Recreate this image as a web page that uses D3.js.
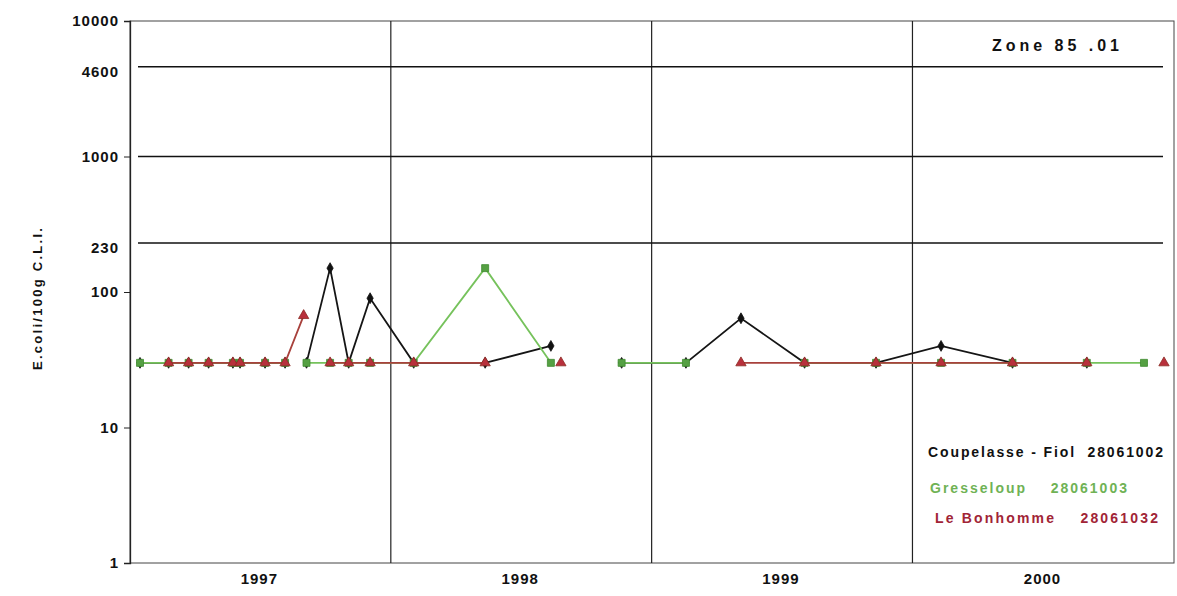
<!DOCTYPE html>
<html>
<head>
<meta charset="utf-8">
<script src="https://cdn.jsdelivr.net/npm/d3@7"></script>
<style>
  body { margin: 0; background: #fff; }
  svg text { font-family: Arial, "Liberation Sans", sans-serif; font-weight: bold; }
</style>
</head>
<body>
<svg id="chart" width="1177" height="596"></svg>
<script>
// Sampling dates shared by the three monitoring points (null = no result that day)
const sampleDates = [
  "1997-01-15", "1997-02-24", "1997-03-24", "1997-04-21", "1997-05-25", "1997-06-04",
  "1997-07-09", "1997-08-06", "1997-09-01", "1997-09-05", "1997-10-08", "1997-11-03",
  "1997-12-03", "1998-02-02", "1998-05-13", "1998-08-13", "1998-08-27", "1998-11-20",
  "1999-02-18", "1999-05-06", "1999-08-03", "1999-11-11", "2000-02-10", "2000-05-20",
  "2000-09-01", "2000-11-20", "2000-12-18"
];

// E. coli per 100 g of flesh and intervalvular liquid
const coupelasse = [30, 30, 30, 30, 30, 30, 30, 30, null, 30, 150, 30, 90, 30, 30, 40, null, 30, 30, 64, 30, 30, 40, 30, 30, null, null];
const gresseloup = [30, 30, 30, 30, 30, 30, 30, 30, null, 30, 30, 30, 30, 30, 150, 30, null, 30, 30, null, 30, 30, 30, 30, 30, 30, null];
const bonhomme   = [null, 30, 30, 30, 30, 30, 30, 30, 67, null, 30, 30, 30, 30, 30, null, 30, null, null, 30, 30, 30, 30, 30, 30, null, 30];

const yTickValues = [1, 10, 100, 1000, 10000];
const thresholdValues = [230, 1000, 4600];
const extraAxisLabels = [230, 4600];
const yearLabels = [1997, 1998, 1999, 2000];
const seriesNames = ["Coupelasse - Fiol  28061002", "Gresseloup    28061003", "Le Bonhomme    28061032"];
const zoneLabel = "Zone  85 .01";
const yAxisTitle = "E.coli/100g C.L.I.";

const svg = d3.select("#chart");
const parse = d3.timeParse("%Y-%m-%d");
const dates = sampleDates.map(parse);

const plot = { left: 130, right: 1174, top: 21, bottom: 563 };

const x = d3.scaleTime()
  .domain([new Date(1997, 0, 1), new Date(2001, 0, 1)])
  .range([plot.left, plot.right]);
const y = d3.scaleLog()
  .domain([1, 10000])
  .range([plot.bottom, plot.top]);

const labelStyle = sel => sel
  .attr("font-size", 15).attr("fill", "#111").attr("letter-spacing", 1)
  .style("font-family", "Arial, 'Liberation Sans', sans-serif").style("font-weight", "bold");

// plot frame
svg.append("rect")
  .attr("x", plot.left).attr("y", plot.top)
  .attr("width", plot.right - plot.left).attr("height", plot.bottom - plot.top)
  .attr("fill", "none").attr("stroke", "#444").attr("stroke-width", 1);

// year separators
svg.append("g").selectAll("line")
  .data(yearLabels.slice(1))
  .join("line")
  .attr("x1", d => x(new Date(d, 0, 1))).attr("x2", d => x(new Date(d, 0, 1)))
  .attr("y1", plot.top).attr("y2", plot.bottom)
  .attr("stroke", "#222").attr("stroke-width", 1.2);

// sanitary threshold lines
svg.append("g").selectAll("line")
  .data(thresholdValues)
  .join("line")
  .attr("x1", plot.left + 8).attr("x2", plot.right - 11)
  .attr("y1", d => y(d)).attr("y2", d => y(d))
  .attr("stroke", "#111").attr("stroke-width", 1.5);

// y axis with decade ticks
const yAxis = svg.append("g")
  .attr("transform", `translate(${plot.left},0)`)
  .call(d3.axisLeft(y).tickValues(yTickValues).tickSize(6).tickPadding(5).tickFormat(d3.format("d")));
yAxis.select(".domain").attr("stroke", "#222").attr("stroke-width", 1.3);
yAxis.selectAll(".tick line").attr("stroke", "#222");
yAxis.selectAll(".tick text").call(labelStyle);

// threshold values labelled on the axis without tick marks
const thrAxis = svg.append("g")
  .attr("transform", `translate(${plot.left},5)`)
  .call(d3.axisLeft(y).tickValues(extraAxisLabels).tickSize(0).tickPadding(11).tickFormat(d3.format("d")));
thrAxis.select(".domain").remove();
thrAxis.selectAll(".tick text").call(labelStyle);

// year labels centred in each year
svg.append("g").selectAll("text")
  .data(yearLabels)
  .join("text")
  .attr("x", d => x(new Date(d, 6, 1)))
  .attr("y", 584)
  .attr("text-anchor", "middle")
  .call(labelStyle)
  .text(d => d);

// y axis title
svg.append("text")
  .attr("transform", "translate(42,299) rotate(-90)")
  .attr("text-anchor", "middle")
  .attr("font-size", 13).attr("fill", "#111")
  .attr("textLength", 142).attr("lengthAdjust", "spacing")
  .text(yAxisTitle);

// zone label
svg.append("text")
  .attr("x", 992).attr("y", 51)
  .attr("font-size", 16).attr("fill", "#111")
  .attr("textLength", 127).attr("lengthAdjust", "spacing")
  .text(zoneLabel);

// series
const series = [
  { values: coupelasse, line: "#151515", marker: "#111", stroke: "#111", shape: d3.symbolDiamond, size: 34 },
  { values: gresseloup, line: "#76c25c", marker: "#55a043", stroke: "#3f8a30", shape: d3.symbolSquare, size: 49 },
  { values: bonhomme, line: "#a8413c", marker: "#b8303c", stroke: "#8a2a22", shape: d3.symbolTriangle, size: 46 }
];

const line = d3.line()
  .defined(d => d.v != null)
  .x(d => x(d.date))
  .y(d => y(d.v));

series.forEach(s => {
  const pts = dates.map((date, i) => ({ date, v: s.values[i] }));
  const g = svg.append("g");
  g.append("path")
    .datum(pts)
    .attr("d", line)
    .attr("fill", "none")
    .attr("stroke", s.line)
    .attr("stroke-width", 1.8);
  g.selectAll("path.m")
    .data(pts.filter(d => d.v != null))
    .join("path")
    .attr("class", "m")
    .attr("transform", d => `translate(${x(d.date)},${y(d.v)})`)
    .attr("d", d3.symbol(s.shape, s.size))
    .attr("fill", s.marker)
    .attr("stroke", s.stroke)
    .attr("stroke-width", 0.8);
});

// legend text
const legendPos = [
  { x: 928, y: 457, w: 235, c: "#111" },
  { x: 930, y: 493, w: 197, c: "#6fb255" },
  { x: 935, y: 523, w: 223, c: "#a12436" }
];
svg.append("g").selectAll("text")
  .data(seriesNames)
  .join("text")
  .attr("x", (d, i) => legendPos[i].x)
  .attr("y", (d, i) => legendPos[i].y)
  .attr("font-size", 14)
  .attr("fill", (d, i) => legendPos[i].c)
  .attr("textLength", (d, i) => legendPos[i].w)
  .attr("lengthAdjust", "spacing")
  .style("white-space", "pre")
  .text(d => d);
</script>
</body>
</html>
